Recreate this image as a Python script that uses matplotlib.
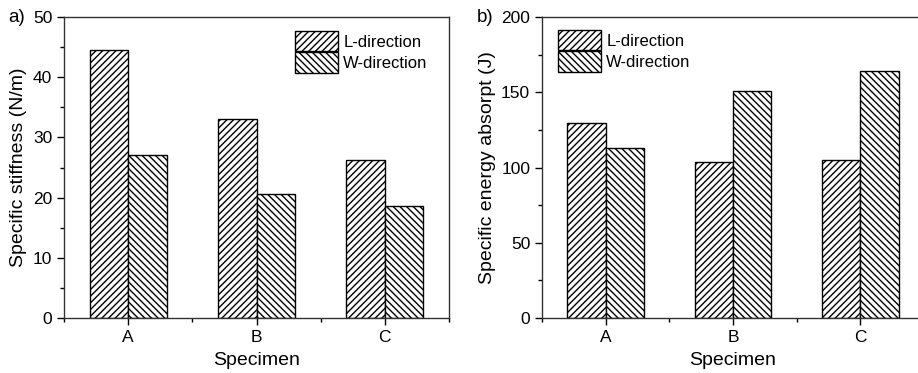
import matplotlib
matplotlib.use('Agg')

import numpy as np
import matplotlib.pyplot as plt
from matplotlib.ticker import MultipleLocator

plt.rcParams['font.family'] = ['Liberation Sans', 'DejaVu Sans']
plt.rcParams['hatch.linewidth'] = 1.0

specimens = ['A', 'B', 'C']
series = ['L-direction', 'W-direction']
hatches = ['/////', '\\\\\\\\\\']

# panel a: specific stiffness (N/m)
stiff_L = [44.6, 33.0, 26.2]
stiff_W = [27.0, 20.6, 18.55]

# panel b: specific energy absorption (J)
energy_L = [129.4, 103.7, 105.0]
energy_W = [112.7, 150.6, 164.3]

W_PX, H_PX = 918, 373
fig = plt.figure(figsize=(W_PX / 100, H_PX / 100), dpi=100)


def px_axes(left, right, top, bottom):
    return fig.add_axes([left / W_PX, 1 - bottom / H_PX,
                         (right - left) / W_PX, (bottom - top) / H_PX])


def draw_panel(ax, vals_L, vals_W, ymax, ystep, ylabel, legend_anchor):
    x = np.arange(1, len(specimens) + 1)
    width = 0.3
    ax.bar(x - width / 2, vals_L, width, color='white', edgecolor='black',
           hatch=hatches[0], linewidth=1.0, label=series[0])
    ax.bar(x + width / 2, vals_W, width, color='white', edgecolor='black',
           hatch=hatches[1], linewidth=1.0, label=series[1])
    ax.set_xlim(0.5, 3.5)
    ax.set_ylim(0, ymax)
    ax.set_xticks(x)
    ax.set_xticklabels(specimens)
    ax.xaxis.set_minor_locator(MultipleLocator(0.5))
    ax.yaxis.set_major_locator(MultipleLocator(ystep))
    ax.yaxis.set_minor_locator(MultipleLocator(ystep / 2))
    ax.tick_params(which='major', direction='out', length=5, width=1,
                   labelsize=12.5, top=False, right=False)
    ax.tick_params(which='minor', direction='out', length=3, width=1,
                   top=False, right=False)
    for s in ax.spines.values():
        s.set_linewidth(1.0)
        s.set_color('#333333')
    ax.set_xlabel('Specimen', fontsize=14, labelpad=5)
    ax.set_ylabel(ylabel, fontsize=14, labelpad=4)
    ax.legend(loc='upper left', bbox_to_anchor=legend_anchor,
              bbox_transform=fig.transFigure, fontsize=12, frameon=False,
              handlelength=2.6, handleheight=1.5, handletextpad=0.3,
              labelspacing=0.05, borderaxespad=0.0, borderpad=0.0)


ax1 = px_axes(64, 449, 17, 318)
draw_panel(ax1, stiff_L, stiff_W, 50, 10, 'Specific stiffness (N/m)',
           (295 / W_PX, 1 - 31 / H_PX))

ax2 = px_axes(542, 924, 17, 318)
draw_panel(ax2, energy_L, energy_W, 200, 50, 'Specific energy absorpt (J)',
           (558 / W_PX, 1 - 30 / H_PX))

fig.text(8 / W_PX, 1 - 17 / H_PX, 'a)', fontsize=13.5, va='center')
fig.text(477 / W_PX, 1 - 17 / H_PX, 'b)', fontsize=13.5, va='center')

fig.savefig('out.png', dpi=100)
